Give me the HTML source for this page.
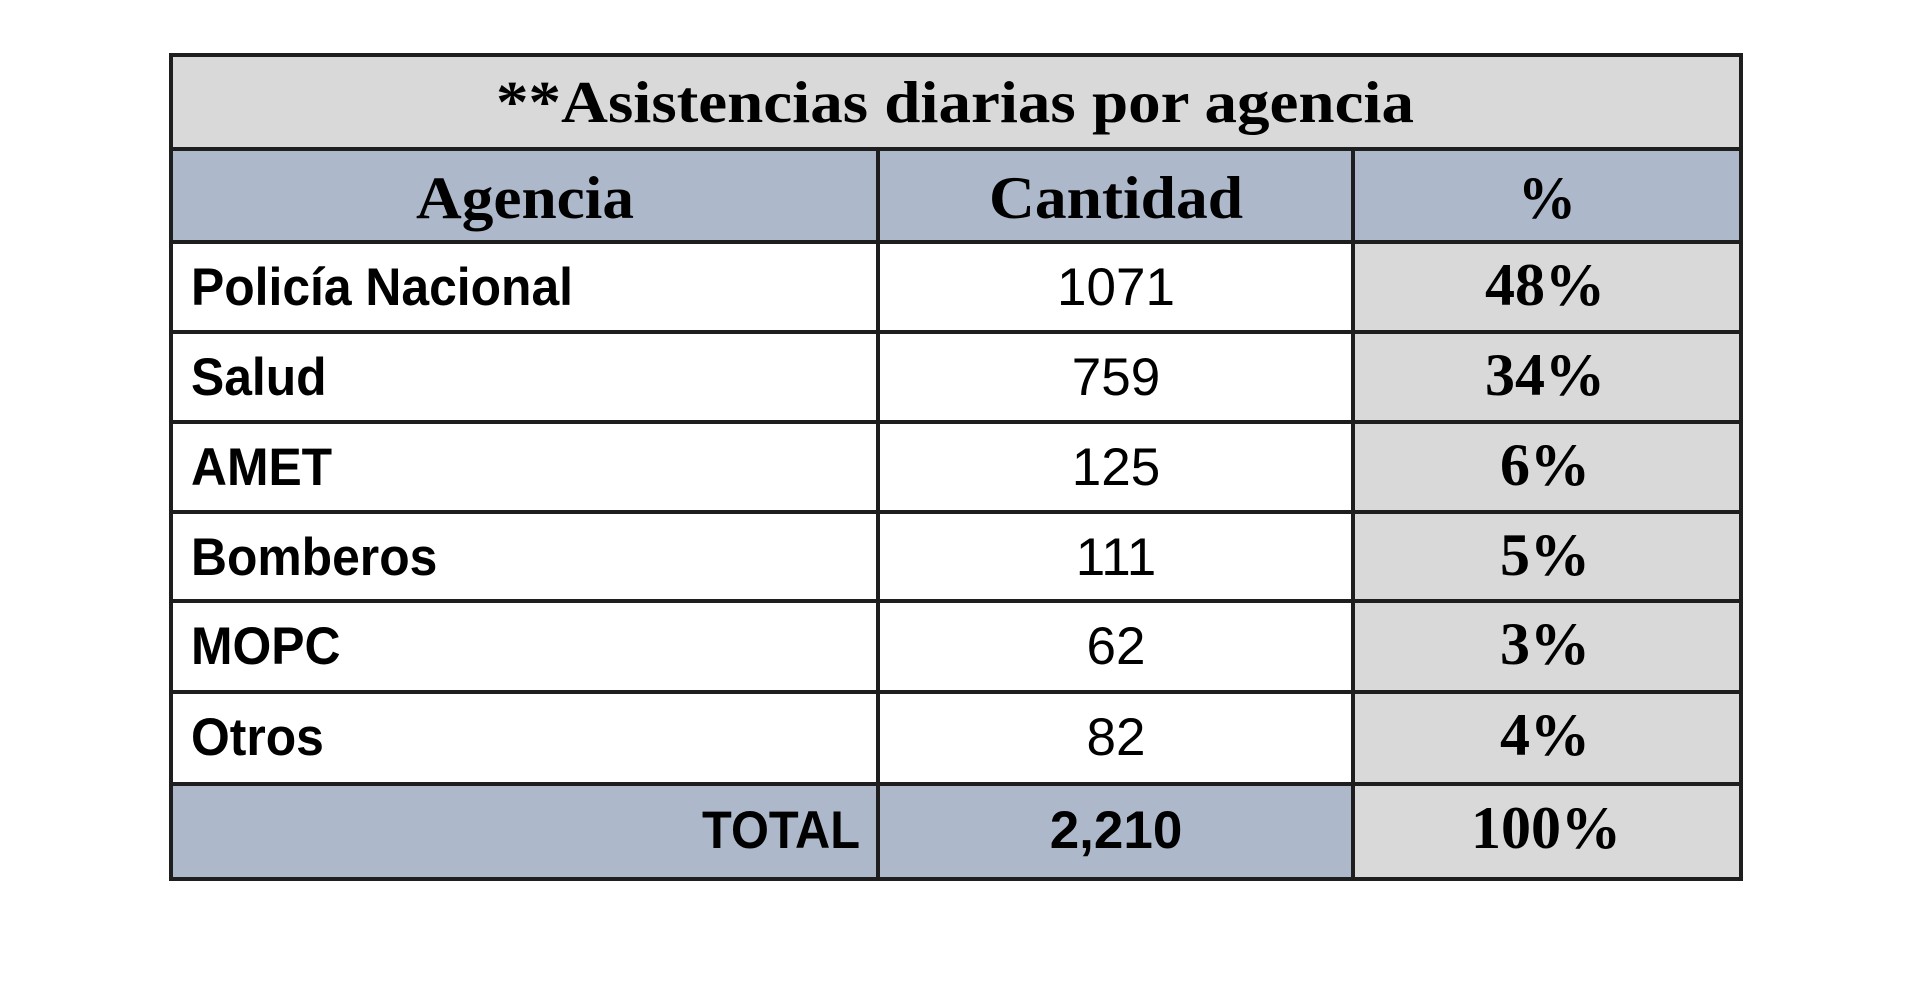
<!DOCTYPE html>
<html><head><meta charset="utf-8"><style>
html,body{margin:0;padding:0;background:#fff;width:1920px;height:982px;overflow:hidden}
svg{display:block}
</style></head><body>
<svg id="tbl" width="1920" height="982" viewBox="0 0 1920 982" xmlns="http://www.w3.org/2000/svg">
<g id="bg"></g><g id="txt"></g><g id="lines"></g>
</svg>
<script>
const agencies = ["Policía Nacional","Salud","AMET","Bomberos","MOPC","Otros"];
const counts = ["1071","759","125","111","62","82"];
const pcts = ["48%","34%","6%","5%","3%","4%"];
const totalCount = "2,210";
const totalPct = "100%";

const NS = "http://www.w3.org/2000/svg";
const L = 171, C1 = 878, C2 = 1353, R = 1741;
const rowY = [55,149,242,332,422,512,601,692,784,879];
const bg = document.getElementById('bg'), txt = document.getElementById('txt'), lines = document.getElementById('lines');
function rect(x,y,w,h,fill,name){
  const r=document.createElementNS(NS,'rect');
  r.setAttribute('x',x);r.setAttribute('y',y);r.setAttribute('width',w);r.setAttribute('height',h);r.setAttribute('fill',fill);
  
  
  bg.appendChild(r);
}
function text(s,x,y,opts,name){
  const t=document.createElementNS(NS,'text');
  t.textContent=s;
  t.setAttribute('font-family',opts.serif?'"Liberation Serif", serif':'"Liberation Sans", sans-serif');
  t.setAttribute('font-weight',opts.bold?'bold':'normal');
  t.setAttribute('font-size',opts.size);
  t.setAttribute('fill','#000');
  t.setAttribute('text-anchor',opts.anchor||'start');
  if(opts.len){t.setAttribute('textLength',opts.len);t.setAttribute('lengthAdjust','spacingAndGlyphs');t.setAttribute('x',x);t.setAttribute('y',y);}
  else{t.setAttribute('transform','translate('+x+','+y+') scale('+(opts.sx||1)+',1)');}
  
  
  txt.appendChild(t);
}
function line(x1,y1,x2,y2){
  const l=document.createElementNS(NS,'line');
  l.setAttribute('x1',x1);l.setAttribute('y1',y1);l.setAttribute('x2',x2);l.setAttribute('y2',y2);
  l.setAttribute('stroke','#1e1e1e');l.setAttribute('stroke-width',4);l.setAttribute('stroke-linecap','square');
  
  
  lines.appendChild(l);
}
rect(L,rowY[0],R-L,rowY[1]-rowY[0],'#d9d9d9','title-cell');
rect(L,rowY[1],R-L,rowY[2]-rowY[1],'#adb9ca','header-row');
rect(L,rowY[2],C2-L,rowY[8]-rowY[2],'#ffffff','body-cells');
rect(C2,rowY[2],R-C2,rowY[9]-rowY[2],'#d9d9d9','percent-column');
rect(L,rowY[8],C2-L,rowY[9]-rowY[8],'#adb9ca','total-row');
text('**Asistencias  diarias por agencia',955,122,{serif:1,bold:1,size:59,anchor:'middle',len:918},'table-title');
text('Agencia',525,218,{serif:1,bold:1,size:60,anchor:'middle',len:218},'header-agencia');
text('Cantidad',1116,218,{serif:1,bold:1,size:60,anchor:'middle',len:254},'header-cantidad');
text('%',1547,218,{serif:1,bold:1,size:60,anchor:'middle',len:58},'header-percent');
agencies.forEach((a,i)=>{
  const base = rowY[i+2] + 63;
  text(a,191,base,{bold:1,size:53,sx:0.94},'agency-name');
  text(counts[i],1116,base,{size:53,anchor:'middle'},'agency-count');
  text(pcts[i],1545,base,{serif:1,bold:1,size:60,anchor:'middle'},'agency-percent');
});
const tb = rowY[8]+64;
text('TOTAL',860,tb,{bold:1,size:53,anchor:'end',sx:0.92},'total-label');
text(totalCount,1116,tb,{bold:1,size:53,anchor:'middle',sx:1.0},'total-count');
text(totalPct,1546,tb,{serif:1,bold:1,size:60,anchor:'middle'},'total-percent');
rowY.forEach(y=>line(L,y,R,y));
line(L,rowY[0],L,rowY[9]);
line(R,rowY[0],R,rowY[9]);
line(C1,rowY[1],C1,rowY[9]);
line(C2,rowY[1],C2,rowY[9]);
</script>
</body></html>
